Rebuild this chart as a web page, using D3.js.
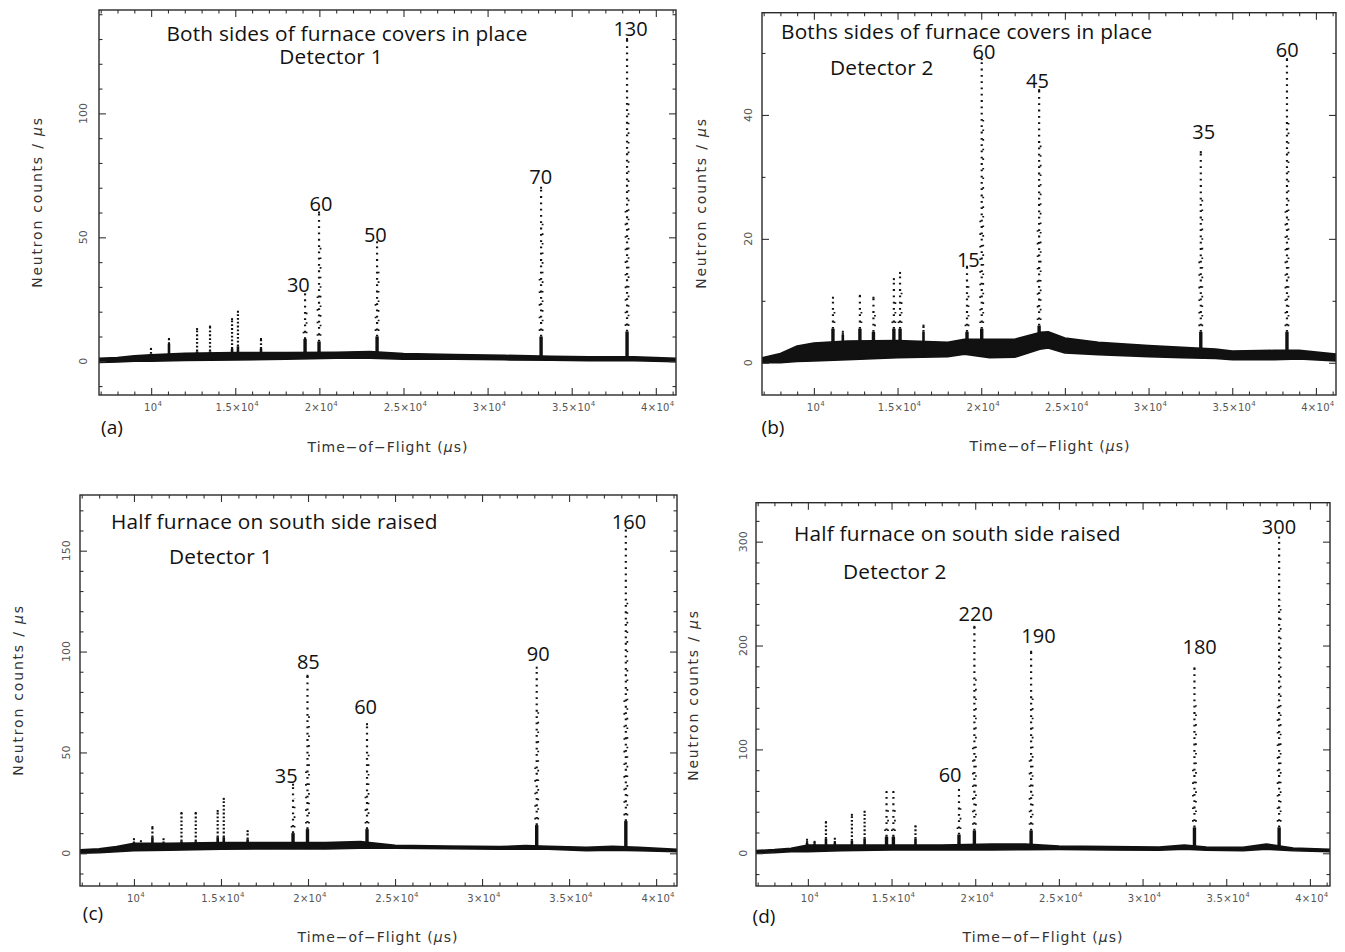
<!DOCTYPE html>
<html><head><meta charset="utf-8">
<script src="https://cdn.jsdelivr.net/npm/d3@7"></script>
<style>body{margin:0;background:#fff;} svg{display:block}</style>
</head><body>
<svg id="chart" width="1345" height="952"></svg>
<script>
// ---------------- data ----------------
const xTickValues = [10000, 15000, 20000, 25000, 30000, 35000, 40000];
const xTickMantissa = ["", "1.5", "2", "2.5", "3", "3.5", "4"];

const yTicksA = [0, 50, 100];
const yTicksB = [0, 20, 40];
const yTicksC = [0, 50, 100, 150];
const yTicksD = [0, 100, 200, 300];

// (a) Both sides covers, detector 1
const baseTofA = [6900, 8000, 9000, 10000, 12000, 15000, 18000, 21000, 23000, 25000, 28000, 31000, 33800, 36000, 38700, 41200];
const baseLoA  = [-0.5, -0.3, 0, 0, 0.3, 0.5, 0.8, 1.2, 1.2, 0.8, 0.8, 0.6, 0.4, 0.2, 0.2, -0.2];
const baseHiA  = [1.2, 1.5, 2.2, 2.6, 3.2, 3.5, 3.5, 3.6, 3.9, 3.1, 2.7, 2.4, 2.0, 1.8, 1.8, 1.2];
const peakTofA  = [9990, 11060, 12730, 13500, 14810, 15160, 16530, 19150, 19980, 23430, 33180, 38290];
const peakTopA  = [5, 9, 13, 14, 17, 20, 9, 27, 60, 48, 70, 130];
const peakFootA = [3, 7, 4, 4, 5, 6, 5, 9, 8, 10, 10, 12];
const labelTextA = ["30", "60", "50", "70", "130"];
const labelTofA  = [18750, 20100, 23330, 33160, 38500];
const labelCntA  = [30.8, 63.5, 51.3, 74.7, 134.4];

// (b) Both sides covers, detector 2
const baseTofB = [6900, 8000, 9000, 10000, 12000, 15000, 18000, 19000, 20500, 22000, 23500, 24000, 25000, 27000, 30000, 32000, 34000, 35000, 37500, 39000, 41200];
const baseLoB  = [0, 0, 0.2, 0.3, 0.5, 0.8, 1.0, 1.4, 0.8, 0.9, 2.2, 2.4, 1.6, 1.3, 1.0, 0.8, 0.7, 0.5, 0.5, 0.6, 0.3];
const baseHiB  = [0.8, 1.5, 2.7, 3.2, 3.5, 3.6, 3.3, 3.8, 3.8, 3.8, 4.9, 5.0, 4.0, 3.3, 2.8, 2.5, 2.2, 1.9, 2.0, 2.0, 1.4];
const peakTofB  = [11140, 11730, 12750, 13560, 14780, 15150, 16550, 19150, 20030, 23460, 33120, 38270];
const peakTopB  = [10.5, 5, 10.8, 10.5, 13.5, 14.5, 6, 15.5, 49, 44, 34, 49];
const peakFootB = [5.5, 4.5, 5.5, 5, 5.5, 5.5, 5, 5, 5.5, 6, 5, 5];
const labelTextB = ["15", "60", "45", "35", "60"];
const labelTofB  = [19230, 20160, 23360, 33300, 38290];
const labelCntB  = [16.6, 50.2, 45.5, 37.3, 50.6];

// (c) Half furnace raised, detector 1
const baseTofC = [6900, 8000, 9000, 10000, 12000, 15000, 18000, 21000, 23000, 25000, 28000, 31000, 32500, 33800, 36000, 37500, 39000, 41200];
const baseLoC  = [0, 0.3, 0.8, 1.3, 1.5, 2.0, 2.2, 2.2, 2.5, 2.5, 2.3, 2.0, 2.0, 2.0, 1.3, 1.5, 1.3, 0.8];
const baseHiC  = [1.7, 2.2, 3.3, 5.0, 5.0, 5.3, 5.3, 5.3, 5.8, 4.0, 3.6, 3.3, 3.8, 3.5, 3.0, 3.5, 3.0, 2.0];
const peakTofC  = [10000, 10400, 11060, 11700, 12730, 13550, 14810, 15160, 16530, 19140, 19970, 23390, 33140, 38260];
const peakTopC  = [7, 6, 13, 7, 20, 20, 21, 27, 11, 34, 88, 64, 92, 160];
const peakFootC = [5, 4, 8, 5, 6, 6, 8, 8, 7, 10, 12, 12, 14, 16];
const labelTextC = ["35", "85", "60", "90", "160"];
const labelTofC  = [18750, 20020, 23310, 33230, 38440];
const labelCntC  = [38.8, 95.0, 72.7, 99.1, 164.4];

// (d) Half furnace raised, detector 2
const baseTofD = [6900, 8000, 9000, 10000, 12000, 15000, 18000, 21000, 23000, 25000, 28000, 31000, 32500, 33800, 36000, 37400, 39000, 41200];
const baseLoD  = [0, 0.5, 1.6, 1.6, 2.6, 3.2, 3.2, 3.2, 3.5, 3.8, 3.2, 3.0, 4.0, 3.0, 2.6, 4.0, 2.5, 1.6];
const baseHiD  = [2.6, 3.5, 4.8, 8, 8, 8, 8, 9, 9, 7, 6.4, 6, 8, 6, 5.8, 9, 5, 3.8];
const peakTofD  = [9950, 10400, 11080, 11610, 12630, 13390, 14700, 15110, 16430, 19030, 19950, 23340, 33100, 38160];
const peakTopD  = [13, 11, 30, 14, 37, 40, 59, 59, 26, 61, 218, 194, 178, 304];
const peakFootD = [10, 9, 14, 10, 12, 14, 16, 16, 14, 18, 22, 22, 25, 25];
const labelTextD = ["60", "220", "190", "180", "300"];
const labelTofD  = [18500, 20030, 23780, 33410, 38150];
const labelCntD  = [75.4, 231, 210.1, 198.9, 314.4];

// ---------------- layout ----------------
// titles: [[line, x, y], ...], all lines of one panel drawn as one text block
const panels = [
  { letter: "(a)", frame: [99, 10, 676, 395], xDom: [6900, 41200], yDom: [-13.6, 141.7], yMajor: yTicksA, yMinor: 10,
    baseTof: baseTofA, baseLo: baseLoA, baseHi: baseHiA, peakTof: peakTofA, peakTop: peakTopA, peakFoot: peakFootA,
    labText: labelTextA, labTof: labelTofA, labCnt: labelCntA, anchor: "middle",
    titles: [["Both sides of furnace covers in place", 347, 34], ["Detector 1", 331, 57]],
    letterPos: [112, 427], xTitlePos: [388, 447], yTitlePos: [37, 202], yLabGap: 16 },
  { letter: "(b)", frame: [762, 12.7, 1336, 395], xDom: [6900, 41200], yDom: [-5.2, 56.5], yMajor: yTicksB, yMinor: 10,
    baseTof: baseTofB, baseLo: baseLoB, baseHi: baseHiB, peakTof: peakTofB, peakTop: peakTopB, peakFoot: peakFootB,
    labText: labelTextB, labTof: labelTofB, labCnt: labelCntB, anchor: "start",
    titles: [["Boths sides of furnace covers in place", 781, 31.5], ["Detector 2", 830, 68]],
    letterPos: [773, 427], xTitlePos: [1050, 446], yTitlePos: [701, 203], yLabGap: 14 },
  { letter: "(c)", frame: [80, 495, 677, 886], xDom: [6900, 41200], yDom: [-16.2, 177.6], yMajor: yTicksC, yMinor: 10,
    baseTof: baseTofC, baseLo: baseLoC, baseHi: baseHiC, peakTof: peakTofC, peakTop: peakTopC, peakFoot: peakFootC,
    labText: labelTextC, labTof: labelTofC, labCnt: labelCntC, anchor: "start",
    titles: [["Half furnace on south side raised", 111, 522], ["Detector 1", 169, 557]],
    letterPos: [93, 913], xTitlePos: [378, 937], yTitlePos: [18, 690], yLabGap: 14 },
  { letter: "(d)", frame: [756, 502.7, 1330, 886], xDom: [6900, 41200], yDom: [-31.5, 337.5], yMajor: yTicksD, yMinor: 20,
    baseTof: baseTofD, baseLo: baseLoD, baseHi: baseHiD, peakTof: peakTofD, peakTop: peakTopD, peakFoot: peakFootD,
    labText: labelTextD, labTof: labelTofD, labCnt: labelCntD, anchor: "start",
    titles: [["Half furnace on south side raised", 794, 534], ["Detector 2", 843, 572]],
    letterPos: [764, 916], xTitlePos: [1043, 937], yTitlePos: [693, 695], yLabGap: 12.5 }
];

const svg = d3.select("#chart");
const annoFont = "'Open Sans', 'Noto Sans', sans-serif";
const tickFont = "'DejaVu Sans', sans-serif";
const ink = "#111";

panels.forEach(p => {
  const [x0, y0, x1, y1] = p.frame;
  const x = d3.scaleLinear().domain(p.xDom).range([x0, x1]);
  const y = d3.scaleLinear().domain(p.yDom).range([y1, y0]);
  const g = svg.append("g");
  const clipId = "clip" + p.letter.replace(/\W/g, "");
  svg.append("clipPath").attr("id", clipId).append("rect")
    .attr("x", x0).attr("y", y0).attr("width", x1 - x0).attr("height", y1 - y0);
  const plot = g.append("g").attr("clip-path", `url(#${clipId})`);

  // baseline band
  const baseData = p.baseTof.map((t, i) => ({ t, lo: p.baseLo[i], hi: p.baseHi[i] }));
  plot.append("path").datum(baseData)
    .attr("d", d3.area().x(d => x(d.t)).y0(d => y(d.lo)).y1(d => y(d.hi)))
    .attr("fill", ink).attr("stroke", ink).attr("stroke-width", 1.6).attr("stroke-linejoin", "round");

  // peaks
  const baseAt = t => d3.scaleLinear().domain(p.baseTof).range(p.baseLo)(t);
  p.peakTof.forEach((t, i) => {
    const top = p.peakTop[i], foot = p.peakFoot[i];
    const tall = (y(0) - y(top)) > 60;
    plot.append("line").attr("x1", x(t)).attr("x2", x(t))
      .attr("y1", y(baseAt(t))).attr("y2", y(foot))
      .attr("stroke", ink).attr("stroke-width", tall ? 3.4 : 2.6);
    plot.append("line").attr("x1", x(t)).attr("x2", x(t))
      .attr("y1", y(foot)).attr("y2", y(top))
      .attr("stroke", ink).attr("stroke-width", 2.2)
      .attr("stroke-dasharray", tall ? "1.8 4.5" : "1.8 2");
    if (tall) {
      plot.append("line").attr("x1", x(t) + 1.5).attr("x2", x(t) + 1.5)
        .attr("y1", y(foot)).attr("y2", y(top * 0.8))
        .attr("stroke", ink).attr("stroke-width", 1.8)
        .attr("stroke-dasharray", "1.6 8").attr("stroke-dashoffset", 4);
      plot.append("line").attr("x1", x(t) - 1.5).attr("x2", x(t) - 1.5)
        .attr("y1", y(foot)).attr("y2", y(top * 0.5))
        .attr("stroke", ink).attr("stroke-width", 1.8)
        .attr("stroke-dasharray", "1.6 11").attr("stroke-dashoffset", 7);
    }
    plot.append("rect").attr("x", x(t) - 1).attr("y", y(top) - 1).attr("width", 2).attr("height", 2).attr("fill", ink);
  });

  // axes (ticks inward on all four sides)
  const xMinor = d3.range(7000, 41001, 1000).filter(v => v % 5000 !== 0);
  const yAll = d3.range(Math.ceil(p.yDom[0] / p.yMinor) * p.yMinor, p.yDom[1], p.yMinor);
  const yMinorVals = yAll.filter(v => !p.yMajor.includes(v));
  const axes = [
    [d3.axisBottom, x, `translate(0,${y1})`, xTickValues, xMinor],
    [d3.axisTop, x, `translate(0,${y0})`, xTickValues, xMinor],
    [d3.axisLeft, y, `translate(${x0},0)`, p.yMajor, yMinorVals],
    [d3.axisRight, y, `translate(${x1},0)`, p.yMajor, yMinorVals]
  ];
  axes.forEach(([mk, sc, tr, major, minor]) => {
    const a1 = g.append("g").attr("transform", tr)
      .call(mk(sc).tickValues(major).tickSize(-7).tickSizeOuter(0).tickFormat(""));
    const a2 = g.append("g").attr("transform", tr)
      .call(mk(sc).tickValues(minor).tickSize(-3.5).tickSizeOuter(0).tickFormat(""));
    [a1, a2].forEach(a => {
      a.select(".domain").remove();
      a.selectAll("line").attr("stroke", "#333").attr("stroke-width", 1.1);
    });
  });
  g.append("rect").attr("x", x0).attr("y", y0).attr("width", x1 - x0).attr("height", y1 - y0)
    .attr("fill", "none").attr("stroke", "#2a2a2a").attr("stroke-width", 1.4);

  // x tick labels
  xTickValues.forEach((v, i) => {
    const t = g.append("text").attr("x", x(v) + 2).attr("y", y1 + 16)
      .attr("text-anchor", "middle").attr("font-family", tickFont).attr("font-size", 10)
      .attr("letter-spacing", 0.3).attr("fill", "#555");
    t.append("tspan").text(xTickMantissa[i] ? xTickMantissa[i] + "\u00d710" : "10");
    t.append("tspan").attr("dy", -5).attr("font-size", 7).text("4");
  });
  // y tick labels (rotated)
  p.yMajor.forEach(v => {
    g.append("text").attr("transform", `translate(${x0 - p.yLabGap},${y(v)}) rotate(-90)`)
      .attr("text-anchor", "middle").attr("dominant-baseline", "central")
      .attr("font-family", tickFont).attr("font-size", 11).attr("fill", "#555").text(v);
  });

  // axis titles
  const xt = g.append("text").attr("x", p.xTitlePos[0]).attr("y", p.xTitlePos[1])
    .attr("text-anchor", "middle").attr("dominant-baseline", "central")
    .attr("font-family", tickFont).attr("font-size", 14).attr("letter-spacing", 1)
    .attr("fill", "#333");
  xt.append("tspan").text("Time\u2212of\u2212Flight (");
  xt.append("tspan").attr("font-style", "italic").text("\u00b5");
  xt.append("tspan").text("s)");
  const yt = g.append("text").attr("transform", `translate(${p.yTitlePos[0]},${p.yTitlePos[1]}) rotate(-90)`)
    .attr("text-anchor", "middle").attr("dominant-baseline", "central")
    .attr("font-family", tickFont).attr("font-size", 14).attr("letter-spacing", 1.8)
    .attr("fill", "#333");
  yt.append("tspan").text("Neutron counts / ");
  yt.append("tspan").attr("font-style", "italic").text("\u00b5");
  yt.append("tspan").text("s");

  // panel letter
  g.append("text").attr("x", p.letterPos[0]).attr("y", p.letterPos[1])
    .attr("text-anchor", "middle").attr("dominant-baseline", "central")
    .attr("font-family", annoFont).attr("font-size", 19).attr("fill", ink).text(p.letter);

  // titles (one text block with a line per tspan)
  const tb = g.append("text").attr("text-anchor", p.anchor)
    .attr("font-family", annoFont).attr("font-size", 20.8).attr("letter-spacing", 0.2).attr("fill", ink);
  p.titles.forEach(([txt, tx, ty]) => {
    tb.append("tspan").attr("x", tx).attr("y", ty + 7).text(txt);
  });
  // peak value labels
  p.labText.forEach((txt, i) => {
    g.append("text").attr("x", x(p.labTof[i])).attr("y", y(p.labCnt[i]))
      .attr("text-anchor", "middle").attr("dominant-baseline", "central")
      .attr("font-family", annoFont).attr("font-size", 20).attr("fill", ink).text(txt);
  });
});
</script>
</body></html>
